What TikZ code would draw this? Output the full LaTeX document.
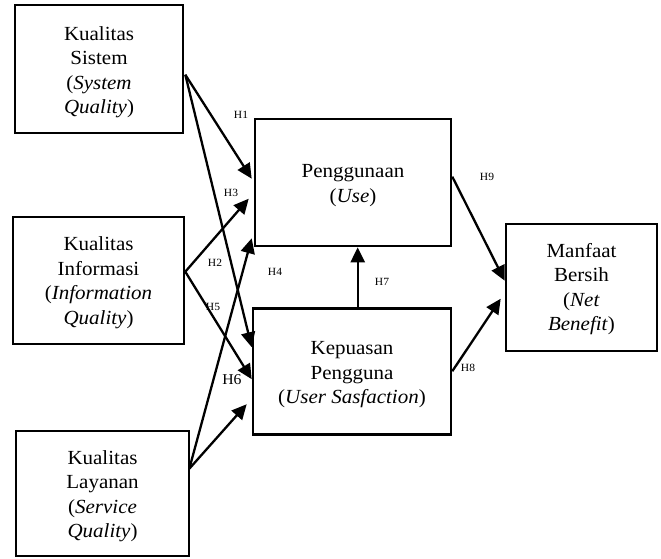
\documentclass[tikz,border=0pt]{standalone}
\usepackage{fontspec}
\setmainfont{Liberation Serif}[FakeStretch=1.05]
\usetikzlibrary{arrows.meta,calc}
\begin{document}
\begin{tikzpicture}[x=1pt,y=-1pt,
  box/.style={draw,line width=2.6pt,inner sep=0pt},
  txt/.style={align=center,inner sep=0pt,font=\fontsize{20}{24.5}\selectfont},
  conn/.style={line width=2.3pt,-{Triangle[length=15pt,width=14pt]}},
  hlab/.style={font=\fontsize{11}{13}\selectfont,inner sep=0pt},
  hbig/.style={font=\fontsize{15}{17}\selectfont,inner sep=0pt}]
\useasboundingbox (0,0) rectangle (661,558);
\node[box,minimum width=168pt,minimum height=128pt] (sis) at (99,69) {};
\node[box,minimum width=171pt,minimum height=127pt] (inf) at (98.5,280.5) {};
\node[box,minimum width=173pt,minimum height=125pt] (lay) at (102.5,493.5) {};
\node[box,minimum width=196pt,minimum height=127pt] (use) at (353,182.5) {};
\node[box,minimum width=198pt,minimum height=126pt] (sat) at (352,371.5) {};
\node[box,minimum width=151pt,minimum height=127pt] (net) at (581.5,287.5) {};
\node[txt] (sist) at (99,72) {Kualitas\\Sistem\\(\textit{System}\\\textit{Quality})};
\node[txt] (inft) at (98.5,282.5) {Kualitas\\Informasi\\(\textit{Information}\\\textit{Quality})};
\node[txt] (layt) at (102.5,496) {Kualitas\\Layanan\\(\textit{Service}\\\textit{Quality})};
\node[txt] (uset) at (353,185.5) {Penggunaan\\(\textit{Use})};
\node[txt] (satt) at (352,375) {Kepuasan\\Pengguna\\(\textit{User Sasfaction})};
\node[txt] (nett) at (581.5,289) {Manfaat\\Bersih\\(\textit{Net}\\\textit{Benefit})};
\coordinate (h7s) at ($(sat.north west)+(106,0)$);
% connectors
\draw[conn] ($(sis.north east)+(1,71)$) -- ($(use.north west)+(-2,61)$);
\draw[conn] ($(sis.north east)+(1,71)$) -- ($(sat.north west)+(0,40)$);
\draw[conn] ($(inf.north east)+(0,56)$) -- ($(use.north west)+(-5,81)$);
\draw[conn] ($(inf.north east)+(0,56)$) -- ($(sat.north west)+(0,72)$);
\draw[conn] ($(lay.north east)+(-1,39)$) -- ($(use.south west)+(-2,-9)$);
\draw[conn] ($(lay.north east)+(-1,39)$) -- ($(sat.north west)+(-5,97)$);
\draw[conn] (h7s) -- (h7s |- use.south);
\draw[conn] ($(sat.north east)+(0,64)$) -- ($(net.north west)+(-4,76)$);
\draw[conn] ($(use.north east)+(0,59)$) -- ($(net.north west)+(0,58)$);
% labels
\node[hlab] (h1) at (241,115) {H1};
\node[hlab] (h3) at (231,193) {H3};
\node[hlab] (h2) at (215,263) {H2};
\node[hlab] (h5) at (213,307) {H5};
\node[hlab] (h4) at (275,272) {H4};
\node[hbig] (h6) at (232,380) {H6};
\node[hlab] (h7) at (382,282) {H7};
\node[hlab] (h9) at (487,177) {H9};
\node[hlab] (h8) at (468,368) {H8};
\end{tikzpicture}
\end{document}
